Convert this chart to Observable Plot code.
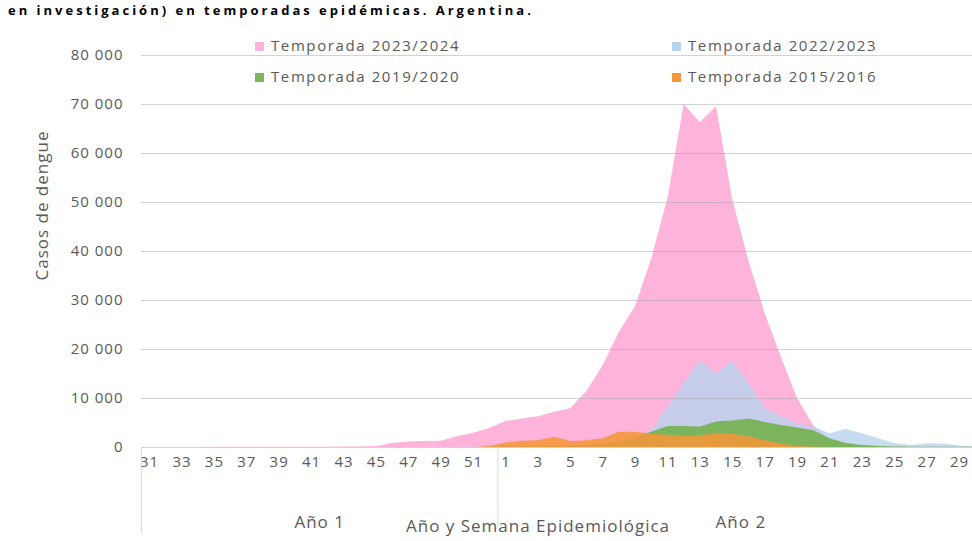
<!DOCTYPE html>
<html>
<head>
<meta charset="utf-8">
<script src="https://cdn.jsdelivr.net/npm/d3@7"></script>
<script src="https://cdn.jsdelivr.net/npm/@observablehq/plot@0.6"></script>
<style>
  html, body { margin: 0; padding: 0; background: #fff; }
  body { width: 972px; height: 541px; overflow: hidden; position: relative; font-family: "Open Sans", sans-serif; }
  #title { position: absolute; top: 1px; left: 8px; font-size: 13px; line-height: 19px; font-weight: bold; color: #000; white-space: nowrap; letter-spacing: 3px; }
  #chart svg text { letter-spacing: 1px; }
  .leg { position: absolute; font-size: 15px; color: #595959; letter-spacing: 1.6px; white-space: nowrap; line-height: 20px; }
  .leg span.sw { display: inline-block; width: 9px; height: 9px; margin-right: 7px; vertical-align: 0px; }
</style>
</head>
<body>
<div id="title">en investigación) en temporadas epidémicas. Argentina.</div>
<div id="chart"></div>
<script>
// Week labels: Año 1 weeks 31..52, Año 2 weeks 1..30
const weekLabels = [31,32,33,34,35,36,37,38,39,40,41,42,43,44,45,46,47,48,49,50,51,52,
                    1,2,3,4,5,6,7,8,9,10,11,12,13,14,15,16,17,18,19,20,21,22,23,24,25,26,27,28,29,30];
const yearLabels = ["Año 1", "Año 2"];
const seriesNames = ["Temporada 2023/2024", "Temporada 2022/2023", "Temporada 2019/2020", "Temporada 2015/2016"];

// Temporada 2023/2024
const t2324 = [20,20,20,20,30,30,30,40,40,50,50,60,80,100,200,800,1100,1200,1300,2200,2900,3900,
               5300,5800,6300,7200,7900,11500,16700,23500,28800,38500,50800,70000,66300,69600,50500,38000,27300,18400,10000,4400,1800,900,500,300,200,150,100,80,60,50];
// Temporada 2022/2023
const t2223 = [10,10,10,10,10,10,10,10,10,10,10,10,10,10,10,20,20,20,20,30,30,40,
               100,150,200,300,400,500,700,1000,1800,3500,8200,13000,17700,15000,17700,13000,8000,6300,4800,4100,2800,3700,2800,1800,800,400,750,700,300,100];
// Temporada 2019/2020
const t1920 = [0,0,0,0,0,0,0,0,0,0,0,0,0,0,0,0,0,0,0,10,10,20,
               100,150,200,250,300,400,700,1200,2000,3100,4300,4300,4200,5200,5400,5800,5100,4500,4000,3400,1800,800,400,200,100,50,50,50,50,50];
// Temporada 2015/2016
const t1516 = [0,0,0,0,0,0,0,0,0,0,0,0,0,0,0,0,0,0,0,0,0,200,
               900,1300,1400,2100,1200,1400,1800,3100,3100,2700,2500,2300,2400,2800,2700,2200,1400,700,200,50,0,0,0,0,0,0,0,0,0,0];

const yTicks = [0,10000,20000,30000,40000,50000,60000,70000,80000];
const xTickIdx = weekLabels.map((w, i) => i).filter(i => weekLabels[i] % 2 === 1);
const yearCenters = [10.5, 36.5];
const xTitle = "Año y Semana Epidemiológica";
const yTitle = "Casos de dengue";
const colors = ["#FEB4DA", "#B8D3EE", "#7CB35D", "#F5963A"];

const rows = weekLabels.map((w, i) => ({i, w, a: t2324[i], b: t2223[i], c: t1920[i], d: t1516[i]}));
const loc = d3.formatLocale({decimal: ",", thousands: " ", grouping: [3], currency: ["", ""]});
const fmt = loc.format(",");

const plot = Plot.plot({
  width: 972, height: 541,
  marginTop: 55, marginRight: 0, marginBottom: 94, marginLeft: 141,
  x: {type: "linear", domain: [-0.5, 50.8]},
  y: {domain: [0, 80000]},
  style: {fontFamily: "'Open Sans', sans-serif", fontSize: "15px", color: "#595959", background: "transparent", overflow: "visible"},
  marks: [
    Plot.areaY(rows, {x: "i", y: "a", fill: colors[0], clip: true}),
    Plot.areaY(rows, {x: "i", y: "b", fill: colors[1], fillOpacity: 0.8, clip: true}),
    Plot.areaY(rows, {x: "i", y: "c", fill: colors[2], clip: true}),
    Plot.areaY(rows, {x: "i", y: "d", fill: colors[3], fillOpacity: 0.88, clip: true}),
    Plot.gridY({ticks: yTicks, stroke: "#a8a8a8", strokeOpacity: 0.5}),
    Plot.axisY({ticks: yTicks, tickFormat: fmt, tickSize: 0, tickPadding: 18, label: null, fill: "#595959"}),
    Plot.axisX({ticks: xTickIdx, tickFormat: i => weekLabels[i], tickSize: 0, tickPadding: 9, label: null, fill: "#595959"}),
    Plot.axisX({ticks: [-0.5], tickSize: 86, tickFormat: () => "", stroke: "#d9d9d9", label: null}),
    Plot.axisX({ticks: [21.5], tickSize: 80, tickFormat: () => "", stroke: "#d9d9d9", label: null}),
    Plot.axisX({ticks: yearCenters, tickSize: 0, tickPadding: 68, tickFormat: d => yearLabels[yearCenters.indexOf(d)], fontSize: 17, label: null, fill: "#595959"}),
    Plot.text([xTitle], {frameAnchor: "bottom", dx: -19, dy: 84, fontSize: 17, fill: "#595959"}),
    Plot.text([yTitle], {frameAnchor: "left", rotate: -90, dx: -99, dy: 29, fontSize: 17, fill: "#595959"})
  ]
});
document.getElementById("chart").appendChild(plot);

// Legend (overlaid on the chart, as in the reference)
const legPos = [[255, 35], [672, 35], [255, 66], [672, 66]];
seriesNames.forEach((name, k) => {
  const d = document.createElement("div");
  d.className = "leg";
  d.style.left = legPos[k][0] + "px";
  d.style.top = legPos[k][1] + "px";
  const sw = document.createElement("span");
  sw.className = "sw";
  sw.style.background = colors[k];
  d.appendChild(sw);
  d.appendChild(document.createTextNode(name));
  document.body.appendChild(d);
});
</script>
</body>
</html>
